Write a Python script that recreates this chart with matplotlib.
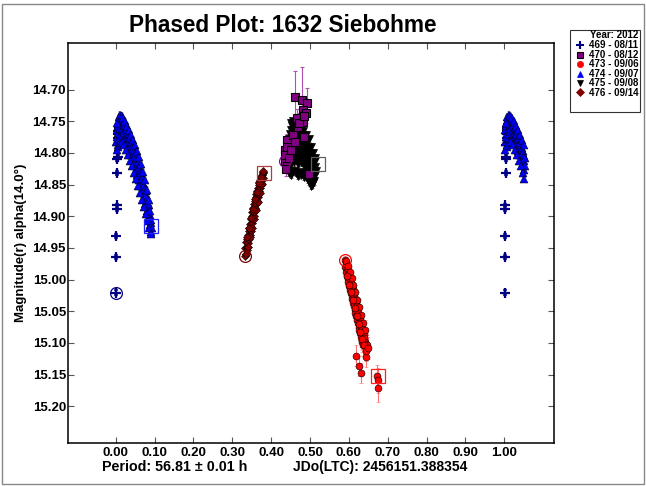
import matplotlib
matplotlib.use('Agg')
import matplotlib.pyplot as plt
from matplotlib.lines import Line2D
from matplotlib.patches import Rectangle
import numpy as np

plt.rcParams['font.family'] = ['Liberation Sans', 'DejaVu Sans']
plt.rcParams['font.weight'] = 'bold'

# ---------------- data ----------------
title = "Phased Plot: 1632 Siebohme"
ylabel = "Magnitude(r) alpha(14.0°)"
period_text = "Period: 56.81 ± 0.01 h"
epoch_text = "JDo(LTC): 2456151.388354"
legend_title = "Year: 2012"
session_labels = ["469 - 08/11", "470 - 08/12", "473 - 09/06", "474 - 09/07", "475 - 09/08", "476 - 09/14"]

xticks = [0.0, 0.1, 0.2, 0.3, 0.4, 0.5, 0.6, 0.7, 0.8, 0.9, 1.0]
yticks = [14.70, 14.75, 14.80, 14.85, 14.90, 14.95, 15.00, 15.05, 15.10, 15.15, 15.20]

# 469 (navy +)
ph469 = [0.001, 0.002, 0.002, 0.003, 0.003, 0.004, 0.004, 0.005, 0.005, 0.006, 0.007, 0.008, 0.006, 0.010]
mg469 = [15.021, 14.964, 14.931, 14.888, 14.883, 14.832, 14.810, 14.806, 14.788, 14.776, 14.765, 14.760, 14.770, 14.755]
er469 = [0.004, 0.003, 0.003, 0.003, 0.003, 0.003, 0.003, 0.003, 0.003, 0.003, 0.003, 0.003, 0.003, 0.003]

# 470 (purple squares)
ph470 = [0.461, 0.479, 0.493, 0.483, 0.490, 0.481, 0.470, 0.440, 0.436, 0.436, 0.440, 0.498,
         0.437, 0.439, 0.442, 0.446, 0.452, 0.456, 0.462, 0.484, 0.466, 0.472, 0.485]
mg470 = [14.711, 14.717, 14.721, 14.732, 14.737, 14.751, 14.759, 14.780, 14.796, 14.812, 14.821, 14.833,
         14.803, 14.826, 14.790, 14.808, 14.795, 14.772, 14.783, 14.775, 14.745, 14.752, 14.742]
er470 = [0.040, 0.052, 0.023, 0.020, 0.015, 0.015, 0.012, 0.010, 0.010, 0.010, 0.010, 0.018,
         0.010, 0.010, 0.010, 0.010, 0.010, 0.010, 0.012, 0.012, 0.015, 0.015, 0.015]

# 473 (red circles)
ph473 = [0.590, 0.591, 0.592, 0.593, 0.594, 0.595, 0.596, 0.597, 0.598, 0.599, 0.600, 0.601,
         0.602, 0.603, 0.604, 0.605, 0.606, 0.607, 0.608, 0.609, 0.610, 0.611, 0.612, 0.613,
         0.614, 0.615, 0.616, 0.617, 0.618, 0.619, 0.620, 0.621, 0.622, 0.623, 0.624, 0.625,
         0.626, 0.627, 0.628, 0.629, 0.630, 0.631, 0.632, 0.633, 0.634, 0.635, 0.636, 0.637,
         0.638, 0.640, 0.642, 0.644, 0.646, 0.648,
         0.618, 0.627, 0.631, 0.644, 0.672, 0.674, 0.674,
         0.592, 0.597, 0.602, 0.607, 0.612, 0.617, 0.622, 0.627, 0.632, 0.637, 0.642,
         0.595, 0.600, 0.605, 0.610, 0.615, 0.620, 0.625, 0.630, 0.635, 0.640, 0.645, 0.650]
mg473 = [14.969, 14.980, 14.972, 14.988, 14.976, 14.995, 14.981, 14.999, 14.986, 15.004, 14.990, 15.010,
         14.996, 15.016, 15.001, 15.021, 15.005, 15.026, 15.010, 15.031, 15.015, 15.037, 15.020, 15.042,
         15.026, 15.048, 15.031, 15.053, 15.036, 15.058, 15.041, 15.064, 15.046, 15.069, 15.052, 15.075,
         15.057, 15.080, 15.062, 15.085, 15.068, 15.090, 15.073, 15.095, 15.078, 15.099, 15.083, 15.103,
         15.088, 15.093, 15.098, 15.102, 15.106, 15.104,
         15.120, 15.137, 15.148, 15.122, 15.153, 15.159, 15.171,
         14.970, 14.978, 14.988, 14.998, 15.009, 15.020, 15.032, 15.044, 15.056, 15.068, 15.080,
         14.995, 15.008, 15.020, 15.032, 15.045, 15.058, 15.070, 15.083, 15.094, 15.104, 15.112, 15.108]
er473 = [0.006, 0.006, 0.007, 0.006, 0.007, 0.007, 0.008, 0.007, 0.008, 0.008, 0.009, 0.008,
         0.009, 0.009, 0.010, 0.009, 0.010, 0.010, 0.011, 0.010, 0.011, 0.011, 0.012, 0.011,
         0.012, 0.012, 0.013, 0.012, 0.013, 0.013, 0.014, 0.013, 0.014, 0.014, 0.015, 0.014,
         0.015, 0.015, 0.016, 0.015, 0.016, 0.016, 0.016, 0.016, 0.017, 0.016, 0.017, 0.017,
         0.017, 0.017, 0.018, 0.018, 0.018, 0.018,
         0.016, 0.016, 0.016, 0.016, 0.018, 0.020, 0.022,
         0.006, 0.007, 0.008, 0.009, 0.010, 0.011, 0.012, 0.013, 0.014, 0.015, 0.016,
         0.007, 0.008, 0.009, 0.010, 0.011, 0.012, 0.013, 0.014, 0.015, 0.016, 0.017, 0.018]

# 474 (blue triangles up)
ph474 = [0.002, 0.003, 0.004, 0.005, 0.006, 0.007, 0.008, 0.009, 0.010, 0.011, 0.012, 0.013,
         0.014, 0.015, 0.016, 0.017, 0.018, 0.019, 0.020, 0.021, 0.022, 0.023, 0.024, 0.025,
         0.026, 0.027, 0.028, 0.029, 0.030, 0.031, 0.032, 0.033, 0.034, 0.035, 0.036, 0.037,
         0.038, 0.039, 0.040, 0.041, 0.042, 0.043, 0.044, 0.045, 0.046, 0.047, 0.048, 0.049,
         0.050, 0.051, 0.052, 0.053, 0.054, 0.055, 0.056, 0.057, 0.058, 0.059, 0.060, 0.061,
         0.062, 0.063, 0.064, 0.065, 0.066, 0.067, 0.068, 0.069, 0.070, 0.071, 0.072, 0.073,
         0.074, 0.075, 0.076, 0.077, 0.078, 0.079, 0.080, 0.081, 0.082, 0.083, 0.084, 0.085,
         0.086, 0.087, 0.088, 0.089, 0.090, 0.091, 0.092, 0.093,
         0.004, 0.008, 0.012, 0.016, 0.020, 0.025, 0.030, 0.035, 0.040, 0.045, 0.050, 0.055,
         0.060, 0.065, 0.070, 0.075, 0.080, 0.085, 0.089,
         0.003, 0.007, 0.012, 0.017, 0.022, 0.027, 0.032, 0.037, 0.042, 0.047, 0.052, 0.057,
         0.062, 0.067, 0.072, 0.077, 0.082, 0.087, 0.091]
mg474 = [14.782, 14.764, 14.775, 14.758, 14.790, 14.768, 14.752, 14.778, 14.745, 14.762, 14.770, 14.742,
         14.756, 14.748, 14.766, 14.744, 14.760, 14.752, 14.772, 14.749, 14.764, 14.756, 14.778, 14.753,
         14.770, 14.760, 14.784, 14.762, 14.776, 14.768, 14.790, 14.770, 14.782, 14.775, 14.797, 14.777,
         14.790, 14.782, 14.804, 14.785, 14.797, 14.790, 14.811, 14.792, 14.805, 14.797, 14.818, 14.800,
         14.812, 14.805, 14.827, 14.808, 14.820, 14.813, 14.835, 14.816, 14.828, 14.821, 14.843, 14.824,
         14.836, 14.830, 14.852, 14.832, 14.845, 14.838, 14.861, 14.841, 14.854, 14.847, 14.870, 14.850,
         14.863, 14.857, 14.880, 14.860, 14.873, 14.867, 14.891, 14.871, 14.884, 14.879, 14.902, 14.883,
         14.897, 14.892, 14.914, 14.898, 14.910, 14.906, 14.925, 14.918,
         14.752, 14.744, 14.740, 14.741, 14.745, 14.750, 14.757, 14.764, 14.771, 14.779, 14.788, 14.797,
         14.807, 14.818, 14.830, 14.843, 14.858, 14.875, 14.892,
         14.795, 14.788, 14.784, 14.783, 14.788, 14.795, 14.803, 14.812, 14.821, 14.831, 14.841, 14.852,
         14.863, 14.874, 14.886, 14.897, 14.908, 14.918, 14.928]
er474 = 0.004

# 475 (black triangles down)
ph475 = [0.440, 0.441, 0.442, 0.443, 0.444, 0.445, 0.446, 0.447, 0.448, 0.449, 0.450, 0.451,
         0.452, 0.453, 0.454, 0.455, 0.456, 0.457, 0.458, 0.459, 0.460, 0.461, 0.462, 0.463,
         0.464, 0.465, 0.466, 0.467, 0.468, 0.469, 0.470, 0.471, 0.472, 0.473, 0.474, 0.475,
         0.476, 0.477, 0.478, 0.479, 0.480, 0.481, 0.482, 0.483, 0.484, 0.485, 0.486, 0.487,
         0.488, 0.489, 0.490, 0.491, 0.492, 0.493, 0.494, 0.495, 0.496, 0.497, 0.498, 0.499,
         0.500, 0.501, 0.502, 0.503, 0.504, 0.505, 0.506, 0.507, 0.508, 0.509, 0.510, 0.512, 0.514,
         0.447, 0.451, 0.455, 0.460, 0.464, 0.468, 0.472, 0.476,
         0.480, 0.484, 0.488, 0.492, 0.496, 0.500, 0.503, 0.506, 0.510, 0.513, 0.516,
         0.452, 0.458, 0.470, 0.476, 0.482, 0.490, 0.497, 0.503, 0.508, 0.512]
mg475 = [14.812, 14.798, 14.822, 14.787, 14.808, 14.778, 14.816, 14.795, 14.770, 14.803, 14.785, 14.818,
         14.764, 14.792, 14.808, 14.757, 14.780, 14.750, 14.798, 14.815, 14.768, 14.788, 14.806, 14.760,
         14.778, 14.796, 14.812, 14.770, 14.786, 14.802, 14.818, 14.776, 14.792, 14.808, 14.768, 14.784,
         14.800, 14.815, 14.778, 14.794, 14.810, 14.772, 14.788, 14.804, 14.820, 14.782, 14.798, 14.812,
         14.790, 14.806, 14.822, 14.785, 14.800, 14.815, 14.795, 14.810, 14.826, 14.792, 14.805, 14.820,
         14.834, 14.800, 14.815, 14.828, 14.842, 14.810, 14.824, 14.838, 14.848, 14.818, 14.832, 14.822, 14.812,
         14.832, 14.835, 14.830, 14.828, 14.832, 14.836, 14.830, 14.835,
         14.832, 14.838, 14.835, 14.840, 14.842, 14.848, 14.852, 14.850, 14.845, 14.835, 14.828,
         14.752, 14.760, 14.758, 14.762, 14.765, 14.772, 14.778, 14.790, 14.800, 14.808]
er475 = 0.005

# 476 (maroon diamonds)
ph476 = [0.333, 0.334, 0.335, 0.336, 0.337, 0.338, 0.339, 0.340, 0.341, 0.342, 0.343, 0.344,
         0.345, 0.346, 0.347, 0.348, 0.349, 0.350, 0.351, 0.352, 0.353, 0.354, 0.355, 0.356,
         0.357, 0.358, 0.359, 0.360, 0.361, 0.362, 0.363, 0.364, 0.365, 0.366, 0.367, 0.368,
         0.369, 0.370, 0.371, 0.372, 0.373, 0.374, 0.375, 0.376, 0.377, 0.378, 0.379, 0.380,
         0.336, 0.341, 0.346, 0.351, 0.356, 0.361, 0.366, 0.371, 0.376,
         0.338, 0.343, 0.348, 0.353, 0.358, 0.363, 0.368, 0.373, 0.378]
mg476 = [14.962, 14.950, 14.960, 14.941, 14.953, 14.936, 14.948, 14.930, 14.942, 14.924, 14.936, 14.918,
         14.930, 14.912, 14.923, 14.905, 14.917, 14.899, 14.911, 14.893, 14.905, 14.887, 14.899, 14.881,
         14.893, 14.876, 14.887, 14.870, 14.881, 14.865, 14.876, 14.860, 14.870, 14.855, 14.865, 14.850,
         14.860, 14.846, 14.855, 14.842, 14.851, 14.838, 14.847, 14.835, 14.843, 14.832, 14.839, 14.830,
         14.960, 14.948, 14.933, 14.919, 14.905, 14.890, 14.877, 14.863, 14.849,
         14.932, 14.918, 14.902, 14.889, 14.873, 14.862, 14.848, 14.838, 14.828]
er476 = 0.003

# first / last observation markers (open circle = first, open square = last)
first_ph = [0.001, 0.436, 0.590, 0.333]
first_mg = [15.021, 14.812, 14.969, 14.962]
first_col = ['#000080', '#800080', '#FF0000', '#800000']
last_ph = [0.092, 0.520, 0.674, 0.381]
last_mg = [14.915, 14.817, 15.153, 14.831]
last_col = ['#2020FF', '#606060', '#FF2020', '#B04040']

WRAP = 0.055

# ---------------- figure ----------------
W, H = 646, 486
fig = plt.figure(figsize=(W / 100, H / 100), dpi=100)
fig.patch.set_facecolor('white')
fig.add_artist(Rectangle((2 / W, 2 / H), (W - 4) / W, (H - 6) / H, transform=fig.transFigure,
                         fill=False, edgecolor='#888888', lw=1))

ax = fig.add_axes([68 / W, 1 - 443 / H, (554 - 68) / W, (443 - 42.7) / H])


def wrap(ph, mg, er):
    ph = np.asarray(ph, float)
    mg = np.asarray(mg, float)
    er = np.broadcast_to(np.asarray(er, float), mg.shape)
    w = ph < WRAP
    return (np.concatenate([ph, ph[w] + 1]), np.concatenate([mg, mg[w]]),
            np.concatenate([er, er[w]]))


def draw(ph, mg, er, marker, fc, ec, mec, ms, mew=0.5, z=3):
    x, y, e = wrap(ph, mg, er)
    ax.errorbar(x, y, yerr=e, fmt=marker, ms=ms, mfc=fc, mec=mec, mew=mew, ecolor=ec,
                elinewidth=0.8, capsize=1.6, capthick=0.8, zorder=z)


draw(ph469, mg469, er469, '+', '#000080', '#4040C0', '#000080', 6.5, mew=1.6, z=3)
draw(ph475, mg475, er475, 'v', 'black', '#404040', 'black', 5.2, z=3)
draw(ph470, mg470, er470, 's', '#800080', '#B050B0', 'black', 5.5, mew=0.8, z=3)
draw(ph473, mg473, er473, 'o', '#FF0000', '#FF7070', 'black', 5.0, mew=0.4, z=3)
draw(ph474, mg474, er474, '^', '#0000FF', '#5050FF', 'black', 5.2, mew=0.35, z=3)
draw(ph476, mg476, er476, 'D', '#800000', '#B05050', 'black', 4.2, mew=0.4, z=3)

for x, y, c in zip(first_ph, first_mg, first_col):
    ax.plot([x], [y], 'o', mfc='none', mec=c, ms=8.5, mew=0.9, zorder=4)
for x, y, c in zip(last_ph, last_mg, last_col):
    ax.plot([x], [y], 's', mfc='none', mec=c, ms=9.5, mew=0.9, zorder=4)

ax.set_xlim(-0.1227, 1.128)
ax.set_ylim(15.258, 14.626)
ax.set_xticks(xticks)
ax.set_xticklabels(['%.2f' % v for v in xticks])
ax.set_yticks(yticks)
ax.set_yticklabels(['%.2f' % v for v in yticks])
ax.tick_params(direction='in', top=True, right=True, length=4.5, width=0.8, color='#555555',
               labelsize=9.5)
ax.tick_params(axis='x', pad=3)
ax.tick_params(axis='y', pad=1.5)
for lab in ax.get_xticklabels() + ax.get_yticklabels():
    lab.set_fontweight('bold')
for s in ax.spines.values():
    s.set_linewidth(1.1)
    s.set_color('black')

# texts
fig.text(283 / W, 1 - 25 / H, title, ha='center', va='center', fontsize=16.3, fontweight='bold')
fig.text(20.7 / W, 1 - 242.5 / H, ylabel, rotation=90, ha='center', va='center', fontsize=9.5,
         fontweight='bold')
fig.text(102 / W, 1 - 467 / H, period_text, ha='left', va='center', fontsize=10.3, fontweight='bold')
fig.text(293 / W, 1 - 467 / H, epoch_text, ha='left', va='center', fontsize=10, fontweight='bold')

# legend (drawn by hand)
fig.add_artist(Rectangle((570 / W, 1 - 112 / H), 70 / W, 82 / H, transform=fig.transFigure,
                         fill=True, facecolor='white', edgecolor='#333333', lw=0.8))
fig.text(638 / W, 1 - 35.5 / H, legend_title, ha='right', va='center', fontsize=7, fontweight='bold')
leg_markers = [('+', '#000080', '#000080', 1.5, 5.5), ('s', '#800080', 'black', 0.8, 4.5),
               ('o', '#FF0000', '#FF0000', 0.5, 4.5), ('^', '#0000FF', '#0000FF', 0.5, 4.5),
               ('v', 'black', 'black', 0.5, 4.5), ('D', '#800000', '#800000', 0.5, 3.8)]
row_y = [45.5, 54.9, 64.3, 73.7, 83.1, 92.5]
for (m, fc, ec, mw, s), lab, yy in zip(leg_markers, session_labels, row_y):
    fig.add_artist(Line2D([580 / W], [1 - yy / H], transform=fig.transFigure, marker=m, ms=s,
                          mfc=fc, mec=ec, mew=mw, ls='none'))
    fig.text(589 / W, 1 - yy / H, lab, ha='left', va='center', fontsize=7, fontweight='bold')

fig.savefig('out.png', dpi=100)
